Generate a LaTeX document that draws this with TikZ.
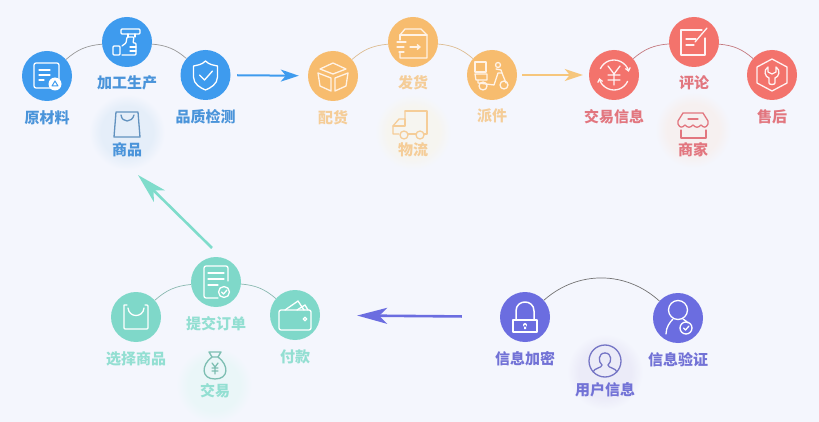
\documentclass[tikz,border=0pt]{standalone}
\usepackage{fontspec}
\setmainfont{Noto Sans CJK SC}
\usetikzlibrary{arrows.meta,positioning}

\definecolor{pagebg}{HTML}{F4F6FD}
\definecolor{bluedisc}{HTML}{3E9BEE}
\definecolor{orangedisc}{HTML}{F7BC6E}
\definecolor{reddisc}{HTML}{F3736C}
\definecolor{tealdisc}{HTML}{7FD8C9}
\definecolor{purpledisc}{HTML}{6B6DE0}
\definecolor{blueink}{HTML}{4A94DA}
\definecolor{orangeink}{HTML}{F5CD98}
\definecolor{redink}{HTML}{E2767F}
\definecolor{tealink}{HTML}{93DFD2}
\definecolor{purpleink}{HTML}{7272D6}
\definecolor{orangeline}{HTML}{F6C67C}
\definecolor{tealline}{HTML}{7FDCCB}
\definecolor{bluehalo}{HTML}{E5EEF9}
\definecolor{orangehalo}{HTML}{F6F5F0}
\definecolor{redhalo}{HTML}{F6F0F0}
\definecolor{tealhalo}{HTML}{EAF6F8}
\definecolor{purplehalo}{HTML}{EBEBF8}
\colorlet{halotint}{pagebg}
\pgfdeclareradialshading[halotint]{halosoft}{\pgfpointorigin}{color(0bp)=(halotint); color(13bp)=(halotint); color(19bp)=(pagebg); color(50bp)=(pagebg)}

\tikzset{
  ink/.style={color=#1, line width=1.3pt, line cap=round, line join=round},
  pics/docicon/.style={code={
    \draw[rounded corners=2pt] (-13,-13) rectangle (12,12);
    \draw (-8,-6) -- (3,-6) (-8,-1) -- (3,-1) (-8,4) -- (-3,4);
    \fill (8,8) circle (6.5);
    \draw[#1, line width=1pt] (5,10) -- (8,5) -- (11,10) -- cycle;
  }},
  pics/handicon/.style={code={
    \draw[rounded corners=1pt] (-6,-13) rectangle (13,-8);
    \draw (1,-8) -- (1,-5) (8,-8) -- (8,-5);
    \draw[rounded corners=1pt] (-14,4) rectangle (-7,13);
    \draw[rounded corners=1pt] (-5,4) -- (-1,1) -- (0,-5) -- (7,-5) -- (6,1) -- (9,1) -- (9,13) -- (-5,13);
    \draw (3,5) -- (9,5) (3,9) -- (9,9);
  }},
  pics/shieldicon/.style={code={
    \draw (0,-14) .. controls (4,-10) and (8,-10) .. (12,-9) -- (12,2) .. controls (12,9) and (5,13) .. (0,15) .. controls (-5,13) and (-12,9) .. (-12,2) -- (-12,-9) .. controls (-8,-10) and (-4,-10) .. (0,-14) -- cycle;
    \draw (-6,0) -- (-1,5) -- (7,-4);
  }},
  pics/bagicon/.style={code={
    \draw (-11,-12) -- (11,-12) -- (13,13) -- (-13,13) -- cycle;
    \draw (-6,-9) .. controls (-5,-1) and (5,-1) .. (7,-9);
  }},
  pics/cubeicon/.style={code={
    \draw (0,-13) -- (13,-7) -- (0,-2) -- (-13,-7) -- cycle;
    \draw (-15,-3) -- (-2,2) -- (-2,15) -- (-13,10) -- cycle;
    \draw (15,-3) -- (2,2) -- (2,15) -- (13,10) -- cycle;
  }},
  pics/shipicon/.style={code={
    \draw (-13,-7) -- (-8,-13) -- (8,-13) -- (14,-7) -- (14,16) -- (-13,16) -- (-13,11);
    \draw (-13,-2) -- (-13,-7) -- (14,-7);
    \draw (-16,0) -- (-7,0) (-16,5) -- (-9,5) (-14,10) -- (-9,10);
    \draw[-{Straight Barb[length=3pt,width=5pt]}] (-3,5) -- (8,5);
  }},
  pics/scootericon/.style={code={
    \draw (-17,-13) rectangle (-6,-3);
    \draw (-17,-1) -- (-5,-1) -- (-5,5) -- (-16,5) -- cycle;
    \draw (-14,5) -- (-14,8) -- (2,10) -- (6,-2) -- (10,-2) -- (14,8);
    \draw (6,-10) circle (2.5);
    \draw (4,-6) -- (9,-5) -- (10,-2);
    \draw (-9,11) circle (4) (12,10) circle (4);
  }},
  pics/truckicon/.style={code={
    \draw (-8,-14) -- (14,-14) -- (14,9) -- (11,9);
    \draw (-8,-14) -- (-8,-6) -- (-14,-6) -- (-20,1) -- (-20,9) -- (-14,9);
    \draw (-20,1) -- (-8,1) -- (-8,-6);
    \draw (-5,9) -- (3,9);
    \draw (-9,10) circle (4) (7,10) circle (4);
  }},
  pics/yenicon/.style={code={
    \draw[-{Straight Barb[length=3pt,width=5pt]}] (-155:15) arc (-155:-12:15);
    \draw[-{Straight Barb[length=3pt,width=5pt]}] (25:15) arc (25:168:15);
    \draw (-6,-9) -- (0,-1) -- (6,-9) (0,-1) -- (0,10) (-6,0) -- (6,0) (-6,5) -- (6,5);
  }},
  pics/noteicon/.style={code={
    \draw (8,-12) -- (-13,-12) -- (-13,13) -- (11,13) -- (11,-4);
    \draw (1,0) -- (13,-14);
    \draw (-8,-3) -- (2,-3) (-8,3) -- (0,3);
  }},
  pics/wrenchicon/.style={code={
    \draw (0,-16) -- (15,-8) -- (15,8) -- (0,16) -- (-15,8) -- (-15,-8) -- cycle;
    \draw (-4,-8) .. controls (-9,-5) and (-7,2) .. (-3,3) -- (-3,8) .. controls (-3,10) and (3,10) .. (3,8) -- (3,3) .. controls (7,2) and (9,-5) .. (4,-8) -- (4,-3) -- (0,-1) -- (-4,-3) -- cycle;
  }},
  pics/storeicon/.style={code={
    \draw (-10,-14) -- (10,-14) -- (15,-6) -- (15,-3) .. controls (13,1) and (11,1) .. (8,-2) .. controls (5,1) and (3,1) .. (0,-2) .. controls (-3,1) and (-5,1) .. (-8,-2) .. controls (-11,1) and (-13,1) .. (-15,-3) -- (-15,-6) -- cycle;
    \draw (-5,-8) -- (5,-8);
    \draw (-12,3) -- (-12,11) -- (13,11) -- (13,3);
  }},
  pics/pouchicon/.style={code={
    \draw[rounded corners=1pt] (-12,-12) -- (-9,-12) (9,-12) -- (12,-12) -- (12,12) -- (-12,12) -- (-12,-12);
    \draw (-8,-9) .. controls (-7,1) and (7,1) .. (8,-9);
  }},
  pics/ordericon/.style={code={
    \draw[rounded corners=2pt] (12,-1) -- (12,-16) -- (-12,-16) -- (-12,16) -- (2,16);
    \draw (-8,-9) -- (8,-9) (-8,-3) -- (8,-3) (-8,3) -- (2,3);
    \draw[fill=#1] (8,10) circle (5.5);
    \draw (5.5,10) -- (7.5,12) -- (11,8);
  }},
  pics/walleticon/.style={code={
    \draw[rounded corners=2pt] (-16,-5) rectangle (16,15);
    \draw (-10,-5) -- (3,-14) -- (9,-5) (2,-5) -- (10,-10) -- (13,-5);
    \draw (10,4) circle (1.8);
  }},
  pics/moneyicon/.style={code={
    \draw (-3,-11) -- (-6,-16) -- (6,-16) -- (3,-11) -- cycle;
    \draw (-3,-11) .. controls (-14,-3) and (-14,11) .. (0,11) .. controls (14,11) and (14,-3) .. (3,-11);
    \draw (-3,-5) -- (0,-1) -- (3,-5) (0,-1) -- (0,6) (-3,0) -- (3,0) (-3,3) -- (3,3);
  }},
  pics/lockicon/.style={code={
    \draw[line width=1.5pt] (-12,3) rectangle (12,15);
    \draw[line width=1.5pt] (-9,3) -- (-9,-6) .. controls (-9,-18) and (9,-18) .. (9,-6) -- (9,3);
    \fill (0,8) circle (2) (-1,8) rectangle (1,12);
  }},
  pics/membericon/.style={code={
    \draw (0,-8) circle (9.5);
    \draw (-12,16) .. controls (-12,9) and (-8,4) .. (-5,1);
    \draw (5,1) .. controls (7,2) and (9,4) .. (10,5);
    \draw (8,10) circle (6);
    \draw (5.5,10) -- (7.5,12) -- (11,8);
  }},
  pics/usericon/.style={code={
    \draw (0,0) circle (16);
    \draw (0,-8) .. controls (-7,-8) and (-7,1) .. (-3,4) .. controls (-3,7) and (-11,7) .. (-12,11);
    \draw (0,-8) .. controls (7,-8) and (7,1) .. (3,4) .. controls (3,7) and (11,7) .. (12,11);
  }}
}

\begin{document}
\begin{tikzpicture}[
    x=1pt, y=-1pt,
    disc/.style={circle, inner sep=0pt, minimum size=50pt, fill=#1},
    tag/.style={inner sep=0pt, text=#1, font=\fontsize{15}{15}\bfseries\selectfont},
    halo/.style={circle, inner sep=0pt, minimum size=100pt, /utils/exec={\colorlet{halotint}{#1}}, shading=halosoft},
    link/.style={draw=#1, line width=0.7pt},
    arrow/.style={draw=#1, line width=2pt, -{Stealth[length=18pt,width=12pt,inset=5pt]}},
    longarrow/.style={draw=#1, line width=2.6pt, -{Stealth[length=30pt,width=16pt,inset=8pt]}}
  ]
    \useasboundingbox (0,0) rectangle (819,422);
    \fill[pagebg] (0,0) rectangle (819,422);

    % soft patches behind the centre labels
    \node[halo=bluehalo] (goodshalo) at (127,132) {};
    \node[halo=orangehalo] (truckhalo) at (413,132) {};
    \node[halo=redhalo] (storehalo) at (693,130) {};
    \node[halo=tealhalo] (moneyhalo) at (214,385) {};
    \node[halo=purplehalo] (userhalo) at (605,372) {};

    % top row
    \node[disc=bluedisc] (raw) at (47,76) {};
    \node[disc=bluedisc] (make) at (127,42) {};
    \node[disc=bluedisc] (check) at (205.5,75) {};
    \node[disc=orangedisc] (pack) at (333,76) {};
    \node[disc=orangedisc] (ship) at (413,42) {};
    \node[disc=orangedisc] (send) at (492,75) {};
    \node[disc=reddisc] (deal) at (614,75) {};
    \node[disc=reddisc] (note) at (694,42) {};
    \node[disc=reddisc] (after) at (772,75) {};
    % bottom row
    \node[disc=tealdisc] (pick) at (136,317) {};
    \node[disc=tealdisc] (order) at (216,282) {};
    \node[disc=tealdisc] (pay) at (295,315) {};
    \node[disc=purpledisc] (lock) at (525,317) {};
    \node[disc=purpledisc] (verify) at (678,318) {};

    \node[tag=blueink, below=9pt of raw] (rawt) {原材料};
    \node[tag=blueink, below=8pt of make] (maket) {加工生产};
    \node[tag=blueink, below=9pt of check] (checkt) {品质检测};
    \node[tag=orangeink, below=9pt of pack] (packt) {配货};
    \node[tag=orangeink, below=8pt of ship] (shipt) {发货};
    \node[tag=orangeink, below=8pt of send] (sendt) {派件};
    \node[tag=redink, below=9pt of deal] (dealt) {交易信息};
    \node[tag=redink, below=8pt of note] (notet) {评论};
    \node[tag=redink, below=9pt of after] (aftert) {售后};
    \node[tag=tealink, below=9pt of pick] (pickt) {选择商品};
    \node[tag=tealink, below=9pt of order] (ordert) {提交订单};
    \node[tag=tealink, below=9pt of pay] (payt) {付款};
    \node[tag=purpleink, below=9pt of lock] (lockt) {信息加密};
    \node[tag=purpleink, below=9pt of verify] (verifyt) {信息验证};
    \node[tag=blueink] (goodst) at (127,150) {商品};
    \node[tag=orangeink] (truckt) at (413,150) {物流};
    \node[tag=redink] (storet) at (693,150) {商家};
    \node[tag=tealink] (moneyt) at (215,391) {交易};
    \node[tag=purpleink] (usert) at (605,390) {用户信息};

    \pic[ink=white] at (raw) {docicon=bluedisc};
    \pic[ink=white] at (make) {handicon};
    \pic[ink=white] at (check) {shieldicon};
    \pic[ink=blueink!80!black!80] at (127,124) {bagicon};
    \pic[ink=orange!10!white] at (pack) {cubeicon};
    \pic[ink=orange!10!white] at (ship) {shipicon};
    \pic[ink=orange!10!white] at (send) {scootericon};
    \pic[ink=orangeink] at (413,125) {truckicon};
    \pic[ink=red!5!white] at (deal) {yenicon};
    \pic[ink=red!5!white] at (note) {noteicon};
    \pic[ink=red!5!white] at (after) {wrenchicon};
    \pic[ink=redink] at (693,127) {storeicon};
    \pic[ink=white] at (pick) {pouchicon};
    \pic[ink=white] at (order) {ordericon=tealdisc};
    \pic[ink=white] at (pay) {walleticon};
    \pic[ink=tealink!85!black] at (215,368) {moneyicon};
    \pic[ink=white] at (lock) {lockicon};
    \pic[ink=white] at (verify) {membericon};
    \pic[ink=purpleink!80!gray] at (605,361) {usericon};

    \draw[link=black!40] (raw) to[bend left=18] (make);
    \draw[link=black!40] (make) to[bend left=18] (check);
    \draw[link=orangeink!80!gray] (pack) to[bend left=18] (ship);
    \draw[link=orangeink!80!gray] (ship) to[bend left=18] (send);
    \draw[link=redink!70!gray] (deal) to[bend left=18] (note);
    \draw[link=redink!70!gray] (note) to[bend left=18] (after);
    \draw[link=tealink!60!gray] (pick) to[bend left=18] (order);
    \draw[link=tealink!60!gray] (order) to[bend left=18] (pay);
    \draw[link=black!55] (lock) to[bend left=42] (verify);

    \coordinate (orderout) at (212,248);
    \coordinate (goodsin) at (138,175);
    \draw[arrow=bluedisc, shorten <=6.5pt, shorten >=9pt] (check) -- (pack);
    \draw[arrow=orangeline, shorten <=5pt, shorten >=6pt] (send) -- (deal);
    \draw[longarrow=tealline] (orderout) -- (goodsin);
    \draw[longarrow=purpledisc, shorten <=38pt, shorten >=37pt] (lock) -- (pay);
  \end{tikzpicture}
\end{document}
